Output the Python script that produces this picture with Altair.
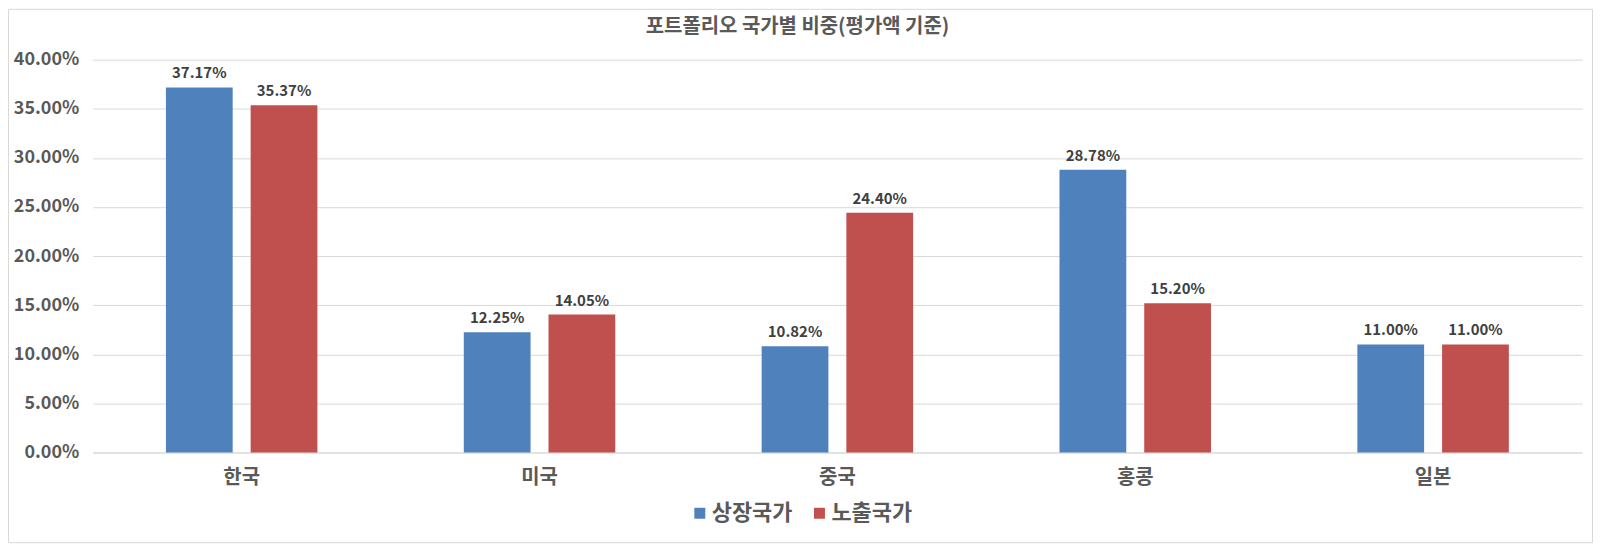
import altair as alt
import pandas as pd

countries = ["한국", "미국", "중국", "홍콩", "일본"]
series = ["상장국가", "노출국가"]
listed = [0.3717, 0.1225, 0.1082, 0.2878, 0.1100]
exposure = [0.3537, 0.1405, 0.2440, 0.1520, 0.1100]
colors = ["#4F81BD", "#C0504D"]
y_ticks = [0.0, 0.05, 0.10, 0.15, 0.20, 0.25, 0.30, 0.35, 0.40]
title_text = "포트폴리오 국가별 비중(평가액 기준)"

rows = []
for c, a, b in zip(countries, listed, exposure):
    rows.append({"country": c, "series": series[0], "value": a})
    rows.append({"country": c, "series": series[1], "value": b})
df = pd.DataFrame(rows)

FONT = "Noto Sans CJK KR"
W, H = 1494, 394
TXT = "#595959"

base = alt.Chart(df).encode(
    x=alt.X(
        "country:N",
        sort=countries,
        scale=alt.Scale(paddingInner=0, paddingOuter=0),
        axis=alt.Axis(
            title=None, labelAngle=0, labelFont=FONT, labelFontSize=20,
            labelFontWeight="bold", labelColor=TXT, labelPadding=15,
            ticks=False, domainColor="#D9D9D9", domainWidth=1, grid=False,
        ),
    ),
    xOffset=alt.XOffset(
        "series:N", sort=series,
        scale=alt.Scale(paddingInner=0.212, paddingOuter=0.864),
    ),
    y=alt.Y(
        "value:Q",
        scale=alt.Scale(domain=[0, 0.40], nice=False),
        axis=alt.Axis(
            title=None, values=y_ticks, format=".2%", labelFont=FONT,
            labelFontSize=18, labelFontWeight="bold", labelColor=TXT,
            labelPadding=14, ticks=False,
            domain=False, gridColor="#D9D9D9", gridWidth=1,
        ),
    ),
)

bars = base.mark_bar().encode(
    color=alt.Color(
        "series:N", sort=series,
        scale=alt.Scale(domain=series, range=colors),
        legend=alt.Legend(
            title=None, orient="none", legendX=598, legendY=444,
            direction="horizontal", symbolType="square", symbolSize=121,
            symbolStrokeWidth=0, labelFont=FONT, labelFontSize=22,
            labelFontWeight="bold", labelColor=TXT, columnPadding=16,
            labelOffset=1,
        ),
    )
)

labels = base.mark_text(
    dy=-9, baseline="alphabetic", font=FONT, fontSize=15,
    fontWeight="bold", color="#404040",
).encode(text=alt.Text("value:Q", format=".2%"))

frame = alt.Chart(pd.DataFrame({"k": [0]})).mark_rect(
    fill="transparent", stroke="#D9D9D9", strokeWidth=1
).encode(
    x=alt.value(-84.5), x2=alt.value(W + 10.5),
    y=alt.value(-50.5), y2=alt.value(H + 90.5),
)

chart = alt.layer(frame, bars, labels).properties(
    width=W,
    height=H,
    title=alt.TitleParams(
        text=title_text, font=FONT, fontSize=20, fontWeight="bold",
        color=TXT, anchor="middle", frame="group", dx=-40, offset=-38,
        baseline="middle",
    ),
    padding={"left": 85, "top": 51, "right": 11, "bottom": 91},
    autosize=alt.AutoSizeParams(type="none"),
).configure_view(strokeWidth=0)

chart.save("out.html", embed_options={"renderer": "svg", "actions": False})
